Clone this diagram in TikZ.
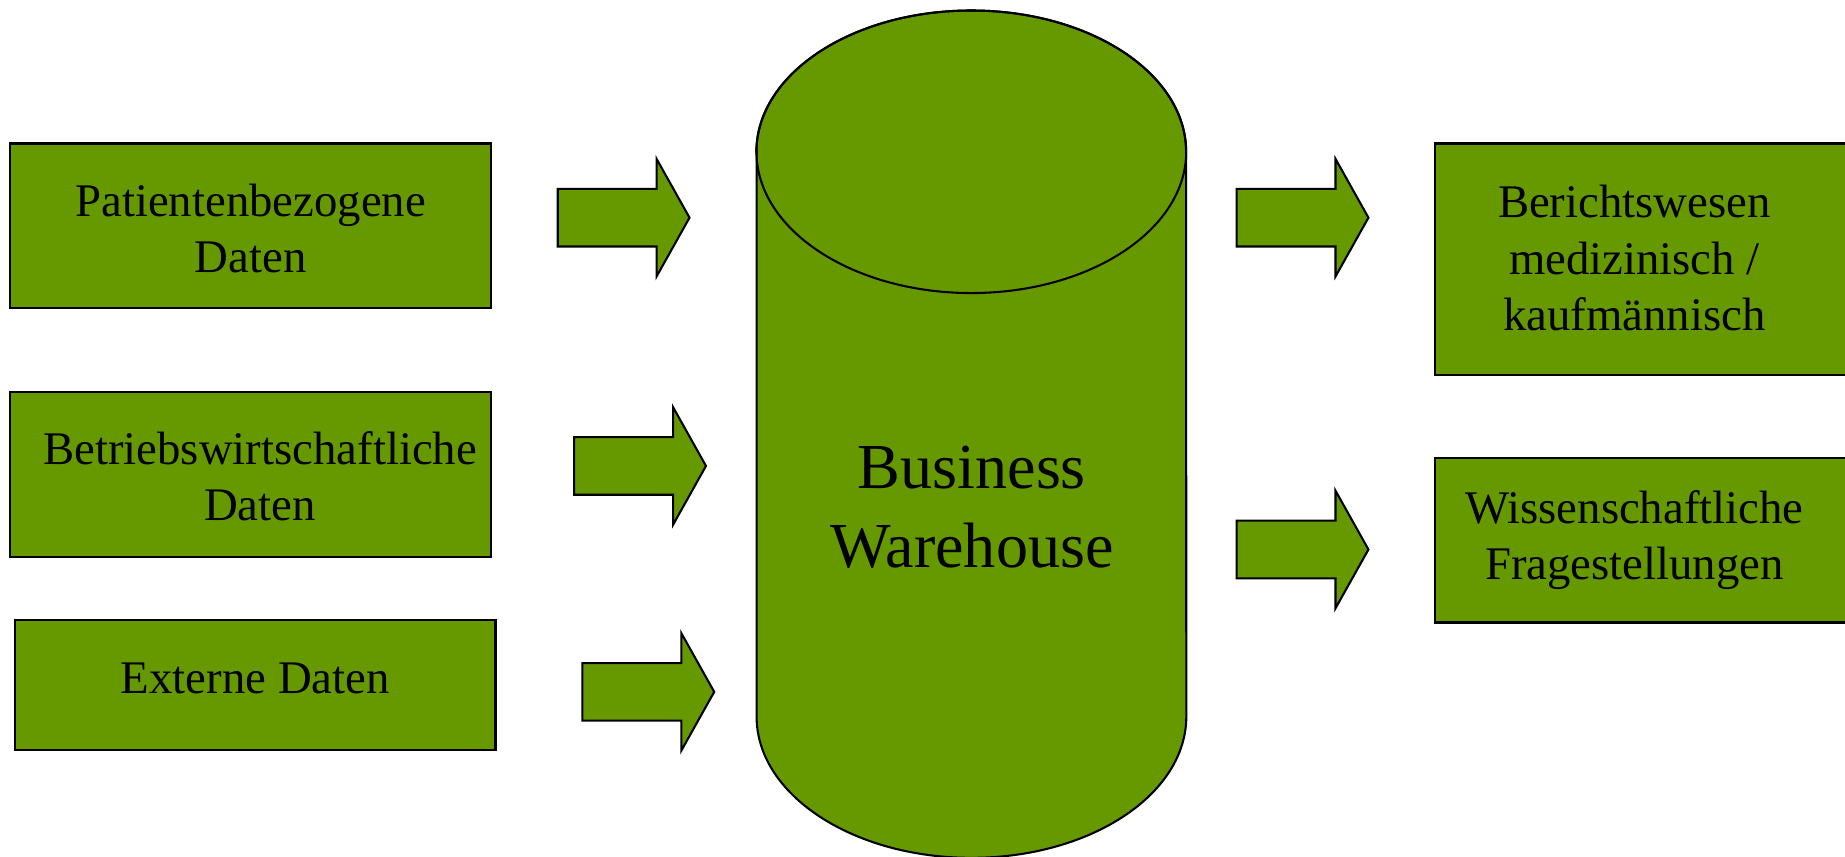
\documentclass[tikz,border=0pt]{standalone}
\usepackage{fontspec}
\setmainfont{Liberation Serif}
\definecolor{gr}{HTML}{669900}

\tikzset{
  box/.style={draw=black, fill=gr, line width=0.5pt, inner sep=0pt},
  boxtext/.style={align=center, font=\fontsize{11.3}{13.6}\selectfont, inner sep=0pt},
  blockarr/.style={draw=black, fill=gr, line width=0.5pt, line join=miter},
}

\begin{document}
\begin{tikzpicture}[x=0.01cm, y=-0.01cm]
  \useasboundingbox (0,0) rectangle (1568,728);
  \clip (0,0) rectangle (1568,728);

  % sources
  \node[box, minimum width=4.08cm, minimum height=1.40cm,
    label={[name=patT, boxtext, yshift=-0.02cm]center:Patientenbezogene\\Daten}]
    (pat) at (213,192) {};
  \node[box, minimum width=4.08cm, minimum height=1.40cm,
    label={[name=bwlT, boxtext, xshift=0.08cm, yshift=-0.015cm]center:Betriebswirtschaftliche\\Daten}]
    (bwl) at (213,403) {};
  \node[box, minimum width=4.08cm, minimum height=1.10cm,
    label={[name=extT, boxtext, yshift=0.05cm]center:Externe Daten}]
    (ext) at (217,582) {};

  % targets (cut at the right edge)
  \node[box, minimum width=3.70cm, minimum height=1.97cm,
    label={[name=berT, boxtext, xshift=-0.16cm, yshift=0.01cm]center:Berichtswesen\\medizinisch /\\kaufmännisch}]
    (ber) at (1405,220.5) {};
  \node[box, minimum width=3.70cm, minimum height=1.40cm,
    label={[name=wisT, boxtext, xshift=-0.16cm]center:Wissenschaftliche\\Fragestellungen}]
    (wis) at (1405,459) {};

  % warehouse
  \coordinate (top) at (825.5,129);
  \coordinate (bot) at (825.5,609);
  \draw[fill=gr, line width=0.5pt] (643,129) -- (643,609)
    arc[start angle=180, end angle=360, x radius=1.825cm, y radius=1.2cm]
    -- (1008,129)
    arc[start angle=0, end angle=180, x radius=1.825cm, y radius=1.2cm] -- cycle;
  \draw[line width=0.5pt] (top) ellipse[x radius=1.825cm, y radius=1.2cm];
  \node[align=center, font=\fontsize{15.5}{19}\selectfont] (bw) at (826,431) {Business\\Warehouse};

  % block arrows
  \foreach \x/\y in {474/185, 488/396, 495/588, 1051/185, 1051/467}
    \draw[blockarr] (\x,\y-24.5) -- ++(84,0) -- ++(0,-25.5) -- (\x+112,\y)
      -- (\x+84,\y+50) -- ++(0,-25.5) -- (\x,\y+24.5) -- cycle;
\end{tikzpicture}
\end{document}
